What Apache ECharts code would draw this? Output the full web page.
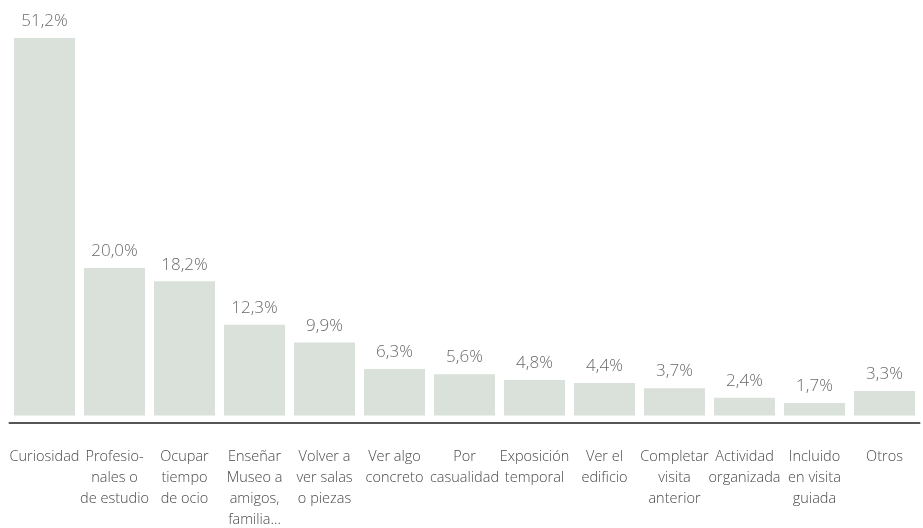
<!DOCTYPE html>
<html>
<head>
<meta charset="utf-8">
<style>
  html, body { margin: 0; padding: 0; background: #fff; }
  #chart { width: 923px; height: 528px; }
</style>
<script src="https://cdn.jsdelivr.net/npm/echarts@6/dist/echarts.min.js"></script>
</head>
<body>
<div id="chart"></div>
<script>
// Motivos de la visita (% de visitantes)
const categories = [
  'Curiosidad',
  'Profesio-\nnales o\nde estudio',
  'Ocupar\ntiempo\nde ocio',
  'Enseñar\nMuseo a\namigos,\nfamilia...',
  'Volver a\nver salas\no piezas',
  'Ver algo\nconcreto',
  'Por\ncasualidad',
  'Exposición\ntemporal',
  'Ver el\nedificio',
  'Completar\nvisita\nanterior',
  'Actividad\norganizada',
  'Incluido\nen visita\nguiada',
  'Otros'
];
const percentages = [51.2, 20.0, 18.2, 12.3, 9.9, 6.3, 5.6, 4.8, 4.4, 3.7, 2.4, 1.7, 3.3];

const fmt = v => v.toFixed(1).replace('.', ',') + '%';

const chart = echarts.init(document.getElementById('chart'));
chart.setOption({
  animation: false,
  backgroundColor: '#ffffff',
  textStyle: { fontFamily: 'Open Sans' },
  // plot spans y=38..422; bars rest a few pixels above the axis line
  grid: {
    left: 9.5, right: 3.5, top: 38, bottom: 105.5,
    containLabel: false,
    outerBoundsMode: 'none'
  },
  xAxis: {
    type: 'category',
    data: categories,
    axisLine: { onZero: false, lineStyle: { color: '#555555', width: 2 } },
    axisTick: { show: false },
    axisLabel: {
      interval: 0,
      margin: 24,
      fontSize: 14.5,
      lineHeight: 21,
      color: '#484848',
      fontFamily: 'Open Sans',
      fontWeight: 300,
      align: 'center'
    }
  },
  yAxis: {
    type: 'value',
    min: -0.96,
    max: 51.2,
    show: false,
    splitLine: { show: false }
  },
  series: [{
    type: 'bar',
    data: percentages,
    barWidth: 61,
    itemStyle: { color: '#dae1da' },
    label: {
      show: true,
      position: 'top',
      distance: 8,
      fontSize: 17,
      color: '#6a6a6a',
      fontFamily: 'Open Sans',
      fontWeight: 300,
      formatter: p => fmt(p.value)
    }
  }]
});
</script>
</body>
</html>
